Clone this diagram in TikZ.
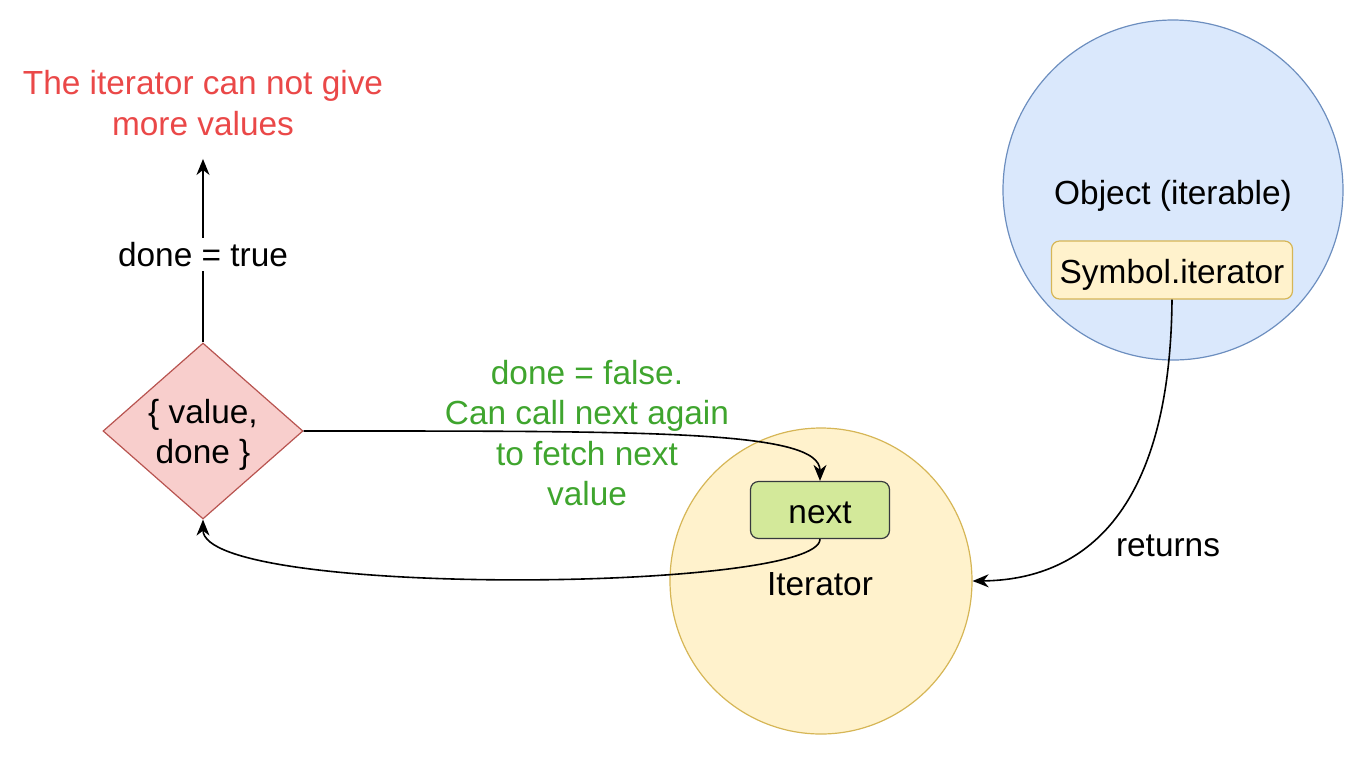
\documentclass[tikz,border=0pt]{standalone}
\usepackage{fontspec}
\setmainfont{Liberation Sans}
\usetikzlibrary{positioning,shapes.geometric,arrows.meta}
\definecolor{objfill}{HTML}{DAE8FC}
\definecolor{objline}{HTML}{6C8EBF}
\definecolor{itfill}{HTML}{FFF2CC}
\definecolor{itline}{HTML}{D6B656}
\definecolor{valfill}{HTML}{F8CECC}
\definecolor{valline}{HTML}{B85450}
\definecolor{nextfill}{HTML}{D3E99A}
\definecolor{nextline}{HTML}{36393D}
\definecolor{stop}{HTML}{EA4848}
\definecolor{go}{HTML}{3FA52E}

\begin{document}
\begin{tikzpicture}[x=0.5pt,y=-0.5pt,
    every node/.style={font=\fontsize{16.7}{20.3}\selectfont,align=center},
    blob/.style={ellipse,draw=itline,fill=itfill,line width=0.6pt,inner sep=0},
    box/.style={rectangle,rounded corners=4pt,draw=itline,fill=itfill,line width=0.6pt,inner sep=0,text height=13.5pt,text depth=0.5pt},
    flow/.style={line width=0.8pt,-{Stealth[length=8pt,width=6.5pt,inset=2.5pt]}}]
      \useasboundingbox (0,0) rectangle (1372,768);
      \path
      (1173,190) node[blob,draw=objline,fill=objfill,minimum width=170pt,minimum height=170pt](obj) {}
      (1173,196) node(objtxt) {Object (iterable)}
      (1172,270) node[box,minimum width=120.5pt,minimum height=29pt](sym) {Symbol.iterator}
      (821,581) node[blob,minimum width=151pt,minimum height=153pt](iter) {}
      (820,510) node[box,draw=nextline,fill=nextfill,minimum width=69.5pt,minimum height=28.5pt](next) {next}
      (820,584) node(ittxt) {Iterator}
      (203,431) node[diamond,draw=valline,fill=valfill,line width=0.6pt,inner sep=0,minimum width=100pt,minimum height=88pt](val) {}
      (203,435) node(valtxt) {\{ value,\\ done \}}
      (203,103) node[text=stop,inner ysep=11.5pt](msg) {The iterator can not give\\ more values}
      (587,433) node[text=go](again) {done = false.\\ Can call next again\\ to fetch next\\ value}
      (1168,546) node(ret) {returns}
      ;

      \draw[flow] (val.north) -- node[fill=white,inner sep=2pt,yshift=-2pt] {done = true} (msg.south);
      \draw[flow] (val.east) .. controls (650,431) and (820,430) .. (next.north);
      \draw[flow] (next.south) .. controls (820,592) and (203,598) .. (val.south);
      \draw[flow] (sym.south) .. controls (1170,540) and (1060,580) .. (iter.east);
    \end{tikzpicture}
\end{document}
